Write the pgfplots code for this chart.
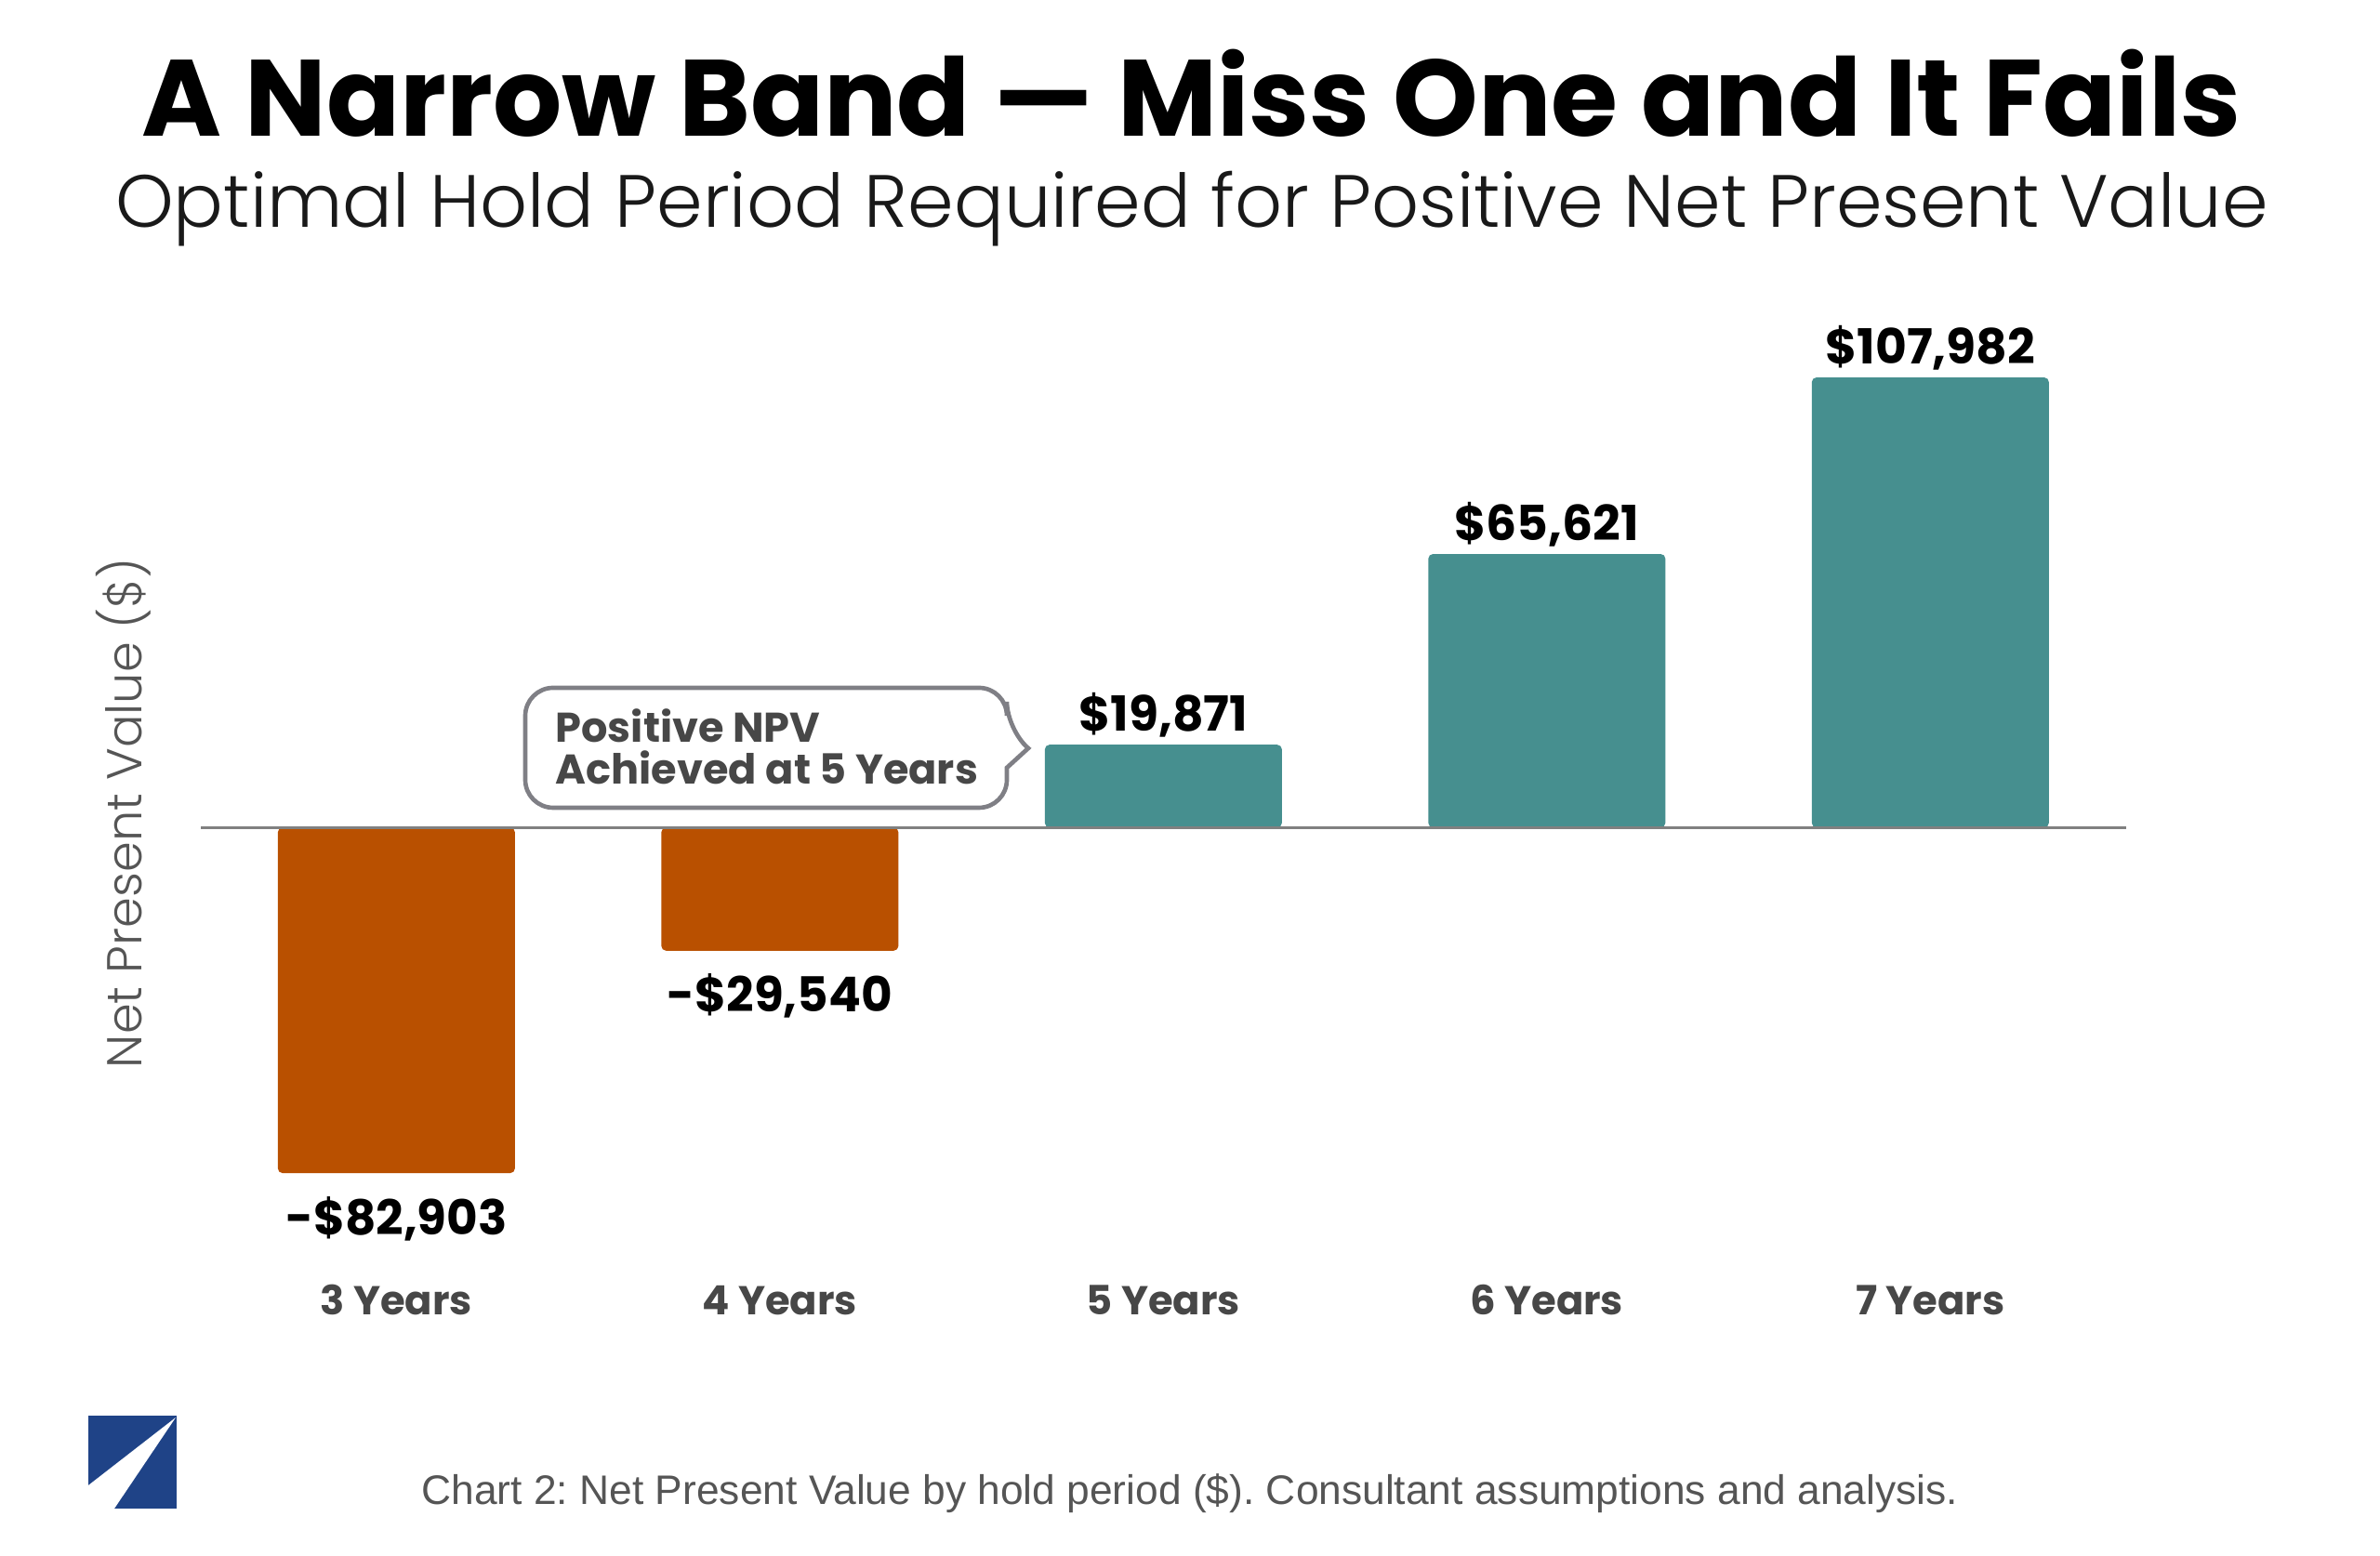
\documentclass[border=0pt]{standalone}
\usepackage{pgfplots}
\pgfplotsset{compat=1.18}
\usepackage{fontspec}
\setmainfont{Poppins}
\newfontfamily\lightfont{Poppins Light}
\newfontfamily\capfont{Liberation Sans}
\definecolor{negc}{HTML}{B95000}
\definecolor{posc}{HTML}{468F8F}
\definecolor{lblc}{HTML}{474747}
\definecolor{boxc}{HTML}{7F7F85}
\definecolor{logoc}{HTML}{1F4387}
\definecolor{capc}{HTML}{555555}
\definecolor{zeroc}{HTML}{808080}
\begin{document}
\frenchspacing
\begin{tikzpicture}
\useasboundingbox (0pt,0pt) rectangle (768pt,502.2pt);
\begin{axis}[
  at={(64.8pt,78.2pt)}, anchor=south west,
  scale only axis, width=621.2pt, height=334.5pt,
  xmin=-0.51, xmax=4.51, ymin=-116629, ymax=132016,
  axis line style={draw=none},
  ytick=\empty,
  xtick={0,1,2,3,4},
  xticklabels={3 Years,4 Years,5 Years,6 Years,7 Years},
  xtick style={draw=none},
  major tick length=0pt,
  xticklabel style={anchor=base, inner sep=0pt, yshift=-0.5pt, font=\fontsize{13}{15}\selectfont\bfseries, text=lblc},
  ybar, bar width=76.5pt, bar shift=0pt,
  clip=false,
]
\addplot[fill=negc, draw=none, rounded corners=1.5pt,
  point meta=explicit symbolic, nodes near coords,
  every node near coord/.append style={anchor=base, yshift=-19.8pt, inner sep=0pt, font=\fontsize{15.5}{18}\selectfont\bfseries, text=black, rounded corners=0pt}]
  coordinates {(0,-82903) [-\$82,903] (1,-29540) [-\$29,540]};
\addplot[fill=posc, draw=none, rounded corners=1.5pt,
  point meta=explicit symbolic, nodes near coords,
  every node near coord/.append style={anchor=base, yshift=4.5pt, inner sep=0pt, font=\fontsize{15.6}{18}\selectfont\bfseries, text=black, rounded corners=0pt}]
  coordinates {(2,19871) [\$19,871] (3,65621) [\$65,621] (4,107982) [\$107,982]};
\addplot[sharp plot, draw=zeroc, line width=0.75pt, mark=none, forget plot]
  coordinates {(-0.51,0) (4.51,0)};
\end{axis}
% title and subtitle
\node[anchor=base, inner sep=0pt, font=\fontsize{35}{40}\selectfont\bfseries] at (384.5pt,458.1pt) {A Narrow Band — Miss One and It Fails};
\node[anchor=base, inner sep=0pt, font=\lightfont\fontsize{23.9}{28}\selectfont, text=black!90] at (384.6pt,428.7pt) {Optimal Hold Period Required for Positive Net Present Value};
% y label
\node[rotate=90, inner sep=0pt, font=\lightfont\fontsize{15.8}{18}\selectfont, text=capc] at (39.9pt,239.7pt) {Net Present Value (\$)};
% callout
\draw[boxc, line width=1.4pt, fill=white] (250pt,280.2pt) [rounded corners=9pt] -- (324.9pt,280.2pt) -- (324.9pt,266.7pt) [sharp corners] -- (331.8pt,260.7pt) -- (324.9pt,254.4pt) [rounded corners=9pt] -- (324.9pt,241.5pt) -- (169.5pt,241.5pt) -- (169.5pt,280.2pt) -- cycle;
\node[anchor=base west, inner sep=0pt, font=\fontsize{13.4}{15}\selectfont\bfseries, text=lblc] at (179.1pt,262.5pt) {Positive NPV};
\node[anchor=base west, inner sep=0pt, font=\fontsize{13.4}{15}\selectfont\bfseries, text=lblc] at (179.1pt,249pt) {Achieved at 5 Years};
% logo
\fill[logoc] (28.5pt,15.3pt) rectangle (57pt,45.3pt);
\fill[white] (56.7pt,44.7pt) -- (28.5pt,22.8pt) -- (28.5pt,15.3pt) -- (36.9pt,15.3pt) -- cycle;
% caption
\node[anchor=base, inner sep=0pt, font=\capfont\fontsize{13.3}{16}\selectfont, text=capc] at (384pt,16.5pt) {Chart 2: Net Present Value by hold period (\$). Consultant assumptions and analysis.};
\end{tikzpicture}
\end{document}
